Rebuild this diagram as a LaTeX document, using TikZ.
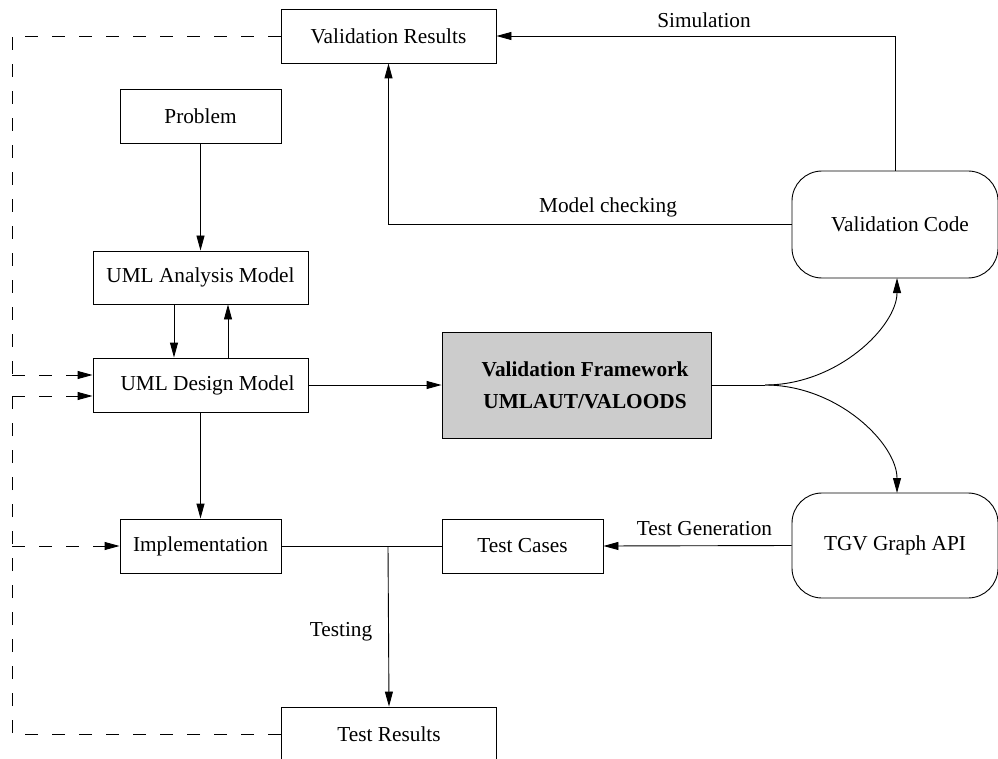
\documentclass[tikz,border=0pt]{standalone}
\usepackage{fontspec}
\setmainfont{Liberation Serif}
\usetikzlibrary{arrows.meta}
\begin{document}
\begin{tikzpicture}[x=1pt,y=-1pt,
  line width=0.9pt,
  every node/.style={font=\fontsize{21.3}{26}\selectfont},
  box/.style={draw, inner sep=0pt, align=center},
  rbox/.style={draw, inner sep=0pt, align=center, rounded corners=30pt},
  arr/.style={-{Triangle[length=15pt,width=8pt]}},
  dsh/.style={dash pattern=on 13pt off 14pt},
  lbl/.style={inner sep=0pt}]
\useasboundingbox (0,0) rectangle (998,759);
% nodes
\node[box, minimum width=215pt, minimum height=54pt] (vr) at (388.5,36) {Validation Results};
\node[box, minimum width=161pt, minimum height=54pt] (prob) at (200.5,116) {Problem};
\node[box, minimum width=215pt, minimum height=53pt] (ana) at (200.5,277.5) {UML Analysis Model};
\node[box, minimum width=215pt, minimum height=54pt] (des) at (200.5,385) {\hspace*{14pt}UML Design Model};
\node[box, fill=gray!40, minimum width=269pt, minimum height=106pt, font=\fontsize{21.3}{32}\selectfont\bfseries] (vf) at (576.5,385) {\hspace*{17pt}Validation Framework\\\hspace*{17pt}UMLAUT/VALOODS};
\node[rbox, minimum width=206pt, minimum height=107pt] (vc) at (895,224.5) {\hspace*{10pt}Validation Code};
\node[rbox, minimum width=206pt, minimum height=105pt] (tgv) at (895,545.5) {TGV Graph API};
\node[box, minimum width=161pt, minimum height=54pt] (impl) at (200.5,546) {Implementation};
\node[box, minimum width=161pt, minimum height=54pt] (tc) at (522.5,546) {Test Cases};
\node[box, minimum width=215pt, minimum height=54pt] (tr) at (389,734) {Test Results};
% labels
\node[lbl] (lsim) at (704,20) {Simulation};
\node[lbl] (lmc) at (608,207) {Model checking};
\node[lbl] (ltg) at (704.5,529) {Test Generation};
\node[lbl] (ltest) at (341,632) {Testing};
% helper coordinates
\coordinate (split) at (765,385);
\coordinate (vcin) at (897,278);
\coordinate (tgvin) at (897,493);
\coordinate (tj) at (388,546);
\coordinate (L1) at (12,375);
\coordinate (L2) at (12,396);
\coordinate (L3) at (12,546);
% connectors
\draw[arr] (vc.north) |- (vr.east);
\draw[arr] (vc.west) -| (vr.south);
\draw[arr] (prob.south) -- (ana.north);
\draw[arr] ([xshift=-26.5pt]ana.south) -- ([xshift=-26.5pt]des.north);
\draw[arr] ([xshift=27.5pt]des.north) -- ([xshift=27.5pt]ana.south);
\draw[arr] (des.east) -- (vf.west);
\draw (vf.east) -- (split);
\draw[arr] (split) .. controls (838,385) and (897,326) .. (vcin);
\draw[arr] (split) .. controls (838,385) and (897,444) .. (tgvin);
\draw[arr] (des.south) -- (impl.north);
\draw (impl.east) -- (tc.west);
\draw[arr] (tj) -- (tr.north);
\draw[arr] (tgv.west) -- (tc.east);
% dashed feedback
\draw[dsh] (vr.west) -| (L1);
\draw[dsh,arr] (L1) -- ([yshift=10pt]des.west);
\draw[dsh] (tr.west) -| (L2);
\draw[dsh,arr] (L2) -- ([yshift=-11pt]des.west);
\draw[dsh,arr] (L3) -- (impl.west);
\end{tikzpicture}
\end{document}
